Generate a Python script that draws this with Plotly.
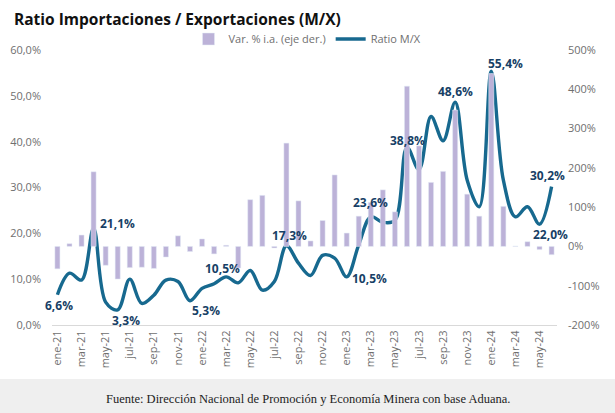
import plotly.graph_objects as go

months = ["ene-21","feb-21","mar-21","abr-21","may-21","jun-21","jul-21","ago-21","sep-21","oct-21","nov-21","dic-21",
          "ene-22","feb-22","mar-22","abr-22","may-22","jun-22","jul-22","ago-22","sep-22","oct-22","nov-22","dic-22",
          "ene-23","feb-23","mar-23","abr-23","may-23","jun-23","jul-23","ago-23","sep-23","oct-23","nov-23","dic-23",
          "ene-24","feb-24","mar-24","abr-24","may-24","jun-24"]

ratio_mx = [6.6, 11.3, 9.8, 21.1, 5.0, 3.3, 10.0, 4.7, 6.5, 9.8, 9.5, 5.3,
            8.0, 9.0, 10.5, 9.2, 11.9, 7.6, 9.5, 17.3, 13.5, 10.8, 15.2, 14.6,
            10.5, 17.5, 23.6, 22.4, 22.8, 38.8, 33.9, 45.5, 40.2, 48.6, 31.6, 25.8,
            55.4, 31.6, 23.6, 25.8, 22.0, 30.2]

var_ia = [-57, 7, 29, 190, -48, -83, -54, -53, -56, -27, 27, -13,
          19, -19, 3, -55, 119, 130, -4, 263, 116, 14, 66, 182,
          34, 77, 112, 144, 88, 408, 256, 163, 191, 347, 133, 77,
          440, 102, 1, 12, -8, -21]

x_ticks = months[0::2]
left_ticks = [0, 10, 20, 30, 40, 50, 60]
left_ticktext = ["0,0%", "10,0%", "20,0%", "30,0%", "40,0%", "50,0%", "60,0%"]
right_ticks = [-200, -100, 0, 100, 200, 300, 400, 500]
right_ticktext = ["-200%", "-100%", "0%", "100%", "200%", "300%", "400%", "500%"]

labeled_months = ["ene-21", "abr-21", "jun-21", "dic-21", "mar-22", "ago-22", "ene-23",
                  "mar-23", "jun-23", "oct-23", "ene-24", "may-24", "jun-24"]
# label offsets (style): xshift, yshift in px
label_offsets = {"ene-21": (2, -11), "abr-21": (24, 5), "jun-21": (8, -11), "dic-21": (16, -10),
                 "mar-22": (-4, 8), "ago-22": (3, 10), "ene-23": (23, -2), "mar-23": (0, 14),
                 "jun-23": (1, 7), "oct-23": (0, 11), "ene-24": (14, 8), "may-24": (11, -10),
                 "jun-24": (-4, 11)}

FONT = "Open Sans"
GRAY = "#6f6f6f"
BAR_COLOR = "#bcb2d8"
LINE_COLOR = "#17698f"
LABEL_COLOR = "#173f66"

# plot area in px (style)
L, R, T, B = 52, 557, 50, 325
PW, PH = R - L, B - T

def px_x(px):
    return (px - L) / PW

def px_y(py):
    return (B - py) / PH

fig = go.Figure()
fig.add_trace(go.Bar(x=months, y=var_ia, name="Var. % i.a. (eje der.)", marker_color=BAR_COLOR,
                     yaxis="y2", hoverinfo="skip"))
fig.add_trace(go.Scatter(x=months, y=ratio_mx, name="Ratio M/X", mode="lines",
                         line=dict(color=LINE_COLOR, width=3.4, shape="spline", smoothing=1.0)))

annotations = []
for m in labeled_months:
    v = ratio_mx[months.index(m)]
    dx, dy = label_offsets[m]
    annotations.append(dict(x=m, y=v, xref="x", yref="y", text=f"{v:.1f}%".replace(".", ","),
                            showarrow=False, xshift=dx, yshift=dy,
                            font=dict(family=FONT, size=12, color=LABEL_COLOR, weight="bold")))

annotations.append(dict(x=px_x(12), y=px_y(19), xref="paper", yref="paper",
                        text="<b>Ratio Importaciones / Exportaciones (M/X)</b>",
                        showarrow=False, font=dict(family=FONT, size=15.5, color="#111111"),
                        xanchor="left", yanchor="middle"))
annotations.append(dict(x=px_x(307.5), y=px_y(399), xref="paper", yref="paper",
                        text="Fuente: Dirección Nacional de Promoción y Economía Minera con base Aduana.",
                        showarrow=False, font=dict(family="Liberation Serif", size=12.5, color="#222222"),
                        xanchor="center", yanchor="middle"))

fig.update_layout(
    width=615, height=413,
    margin=dict(l=L, r=615 - R, t=T, b=413 - B, autoexpand=False),
    paper_bgcolor="white", plot_bgcolor="white",
    font=dict(family=FONT, size=11, color=GRAY),
    bargap=0.58,
    showlegend=True,
    legend=dict(orientation="h", x=px_x(307.5), xanchor="center",
                y=px_y(39), yanchor="middle",
                font=dict(family=FONT, size=11, color=GRAY), traceorder="normal",
                itemwidth=30, bgcolor="rgba(0,0,0,0)"),
    xaxis=dict(type="category", categoryorder="array", categoryarray=months,
               tickmode="array", tickvals=x_ticks, ticktext=x_ticks, tickangle=-90,
               showgrid=False, showline=True, linecolor="#d9d9d9", linewidth=1,
               ticks="", tickfont=dict(size=11, color=GRAY), range=[-0.45, len(months) - 0.55]),
    yaxis=dict(range=[0, 60], tickmode="array", tickvals=left_ticks, ticktext=left_ticktext,
               showgrid=False, zeroline=False, showline=False, ticks="", ticklabelstandoff=10,
               tickfont=dict(size=11, color=GRAY)),
    yaxis2=dict(range=[-200, 500], overlaying="y", side="right", tickmode="array",
                tickvals=right_ticks, ticktext=right_ticktext, showgrid=False, zeroline=False,
                showline=False, ticks="", ticklabelstandoff=10, tickfont=dict(size=11, color=GRAY)),
    annotations=annotations,
    shapes=[dict(type="rect", xref="paper", yref="paper", x0=px_x(-5), x1=px_x(620),
                 y0=px_y(379), y1=px_y(420), fillcolor="#efefef", line_width=0, layer="below")],
)

fig.write_html("out.html", config={"displayModeBar": False},
               post_script="document.body.style.margin='0';document.body.style.overflow='hidden';")
